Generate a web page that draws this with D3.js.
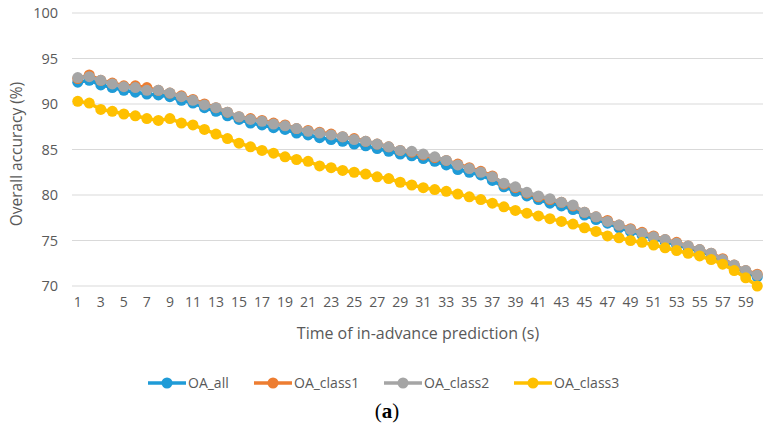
<!DOCTYPE html>
<html>
<head>
<meta charset="utf-8">
<script src="https://cdn.jsdelivr.net/npm/d3@7"></script>
<style>
  body { margin: 0; background: #fff; }
  svg { display: block; font-family: "Open Sans", sans-serif; }
</style>
</head>
<body>
<svg id="chart"></svg>
<script>
const width = 775;
const height = 430;
const margin = { top: 13, right: 12, bottom: 144, left: 72 };

// x categories 1..60 (seconds)
const seconds = [1,2,3,4,5,6,7,8,9,10,11,12,13,14,15,16,17,18,19,20,
  21,22,23,24,25,26,27,28,29,30,31,32,33,34,35,36,37,38,39,40,
  41,42,43,44,45,46,47,48,49,50,51,52,53,54,55,56,57,58,59,60];

const oaAll = [92.4,92.6,92.1,91.8,91.5,91.3,91.1,91.0,90.8,90.4,90.1,89.6,89.2,88.7,88.3,
  87.9,87.7,87.4,87.2,86.8,86.6,86.3,86.1,85.9,85.6,85.4,85.1,84.8,84.5,84.3,
  84.0,83.7,83.3,82.8,82.5,82.2,81.6,80.9,80.4,79.9,79.5,79.1,78.8,78.4,77.8,
  77.3,76.9,76.4,76.0,75.6,75.2,74.9,74.5,74.2,73.8,73.4,72.7,72.1,71.5,71.0];

const oaClass1 = [92.8,93.2,92.6,92.3,92.0,92.0,91.8,91.5,91.2,90.9,90.5,90.0,89.6,89.1,88.6,
  88.4,88.2,87.9,87.7,87.3,87.1,86.9,86.7,86.4,86.2,85.9,85.6,85.3,84.9,84.7,
  84.4,84.1,83.8,83.4,83.0,82.6,82.1,81.2,80.8,80.2,79.8,79.5,79.2,78.8,78.1,
  77.6,77.2,76.7,76.3,75.9,75.5,75.1,74.8,74.4,74.0,73.6,73.0,72.3,71.7,71.3];

const oaClass2 = [92.9,93.0,92.6,92.2,91.9,91.8,91.5,91.5,91.2,90.8,90.4,89.9,89.6,89.1,88.6,
  88.3,88.1,87.8,87.6,87.3,87.0,86.8,86.6,86.4,86.1,85.9,85.6,85.3,84.9,84.8,
  84.5,84.2,83.8,83.3,82.9,82.5,82.0,81.3,80.9,80.3,79.9,79.6,79.2,78.9,78.1,
  77.6,77.1,76.7,76.2,75.8,75.4,75.1,74.7,74.4,74.0,73.6,72.9,72.3,71.7,71.2];

const oaClass3 = [90.3,90.1,89.4,89.2,88.9,88.7,88.4,88.2,88.4,87.9,87.7,87.2,86.7,86.2,85.7,
  85.3,84.9,84.6,84.2,83.9,83.7,83.2,83.0,82.7,82.5,82.3,82.0,81.8,81.4,81.1,
  80.8,80.6,80.4,80.1,79.8,79.5,79.1,78.7,78.3,78.0,77.7,77.4,77.1,76.8,76.4,
  76.0,75.5,75.3,75.0,74.8,74.5,74.2,73.9,73.6,73.3,72.9,72.4,71.7,70.9,70.0];

const seriesNames = ["OA_all", "OA_class1", "OA_class2", "OA_class3"];
const seriesColors = ["#1f9bd7", "#ed7d31", "#a5a5a5", "#ffc000"];
const seriesValues = [oaAll, oaClass1, oaClass2, oaClass3];

const yTicks = [70, 75, 80, 85, 90, 95, 100];
const xTickLabels = seconds.filter((d) => d % 2 === 1);

const svg = d3.select("#chart").attr("width", width).attr("height", height);

const xScale = d3
  .scaleBand()
  .domain(seconds)
  .range([margin.left, width - margin.right]);

const yScale = d3
  .scaleLinear()
  .domain([70, 100])
  .range([height - margin.bottom, margin.top]);

const cx = (d) => xScale(d) + xScale.bandwidth() / 2;

// gridlines
svg
  .append("g")
  .selectAll("line")
  .data(yTicks)
  .enter()
  .append("line")
  .attr("x1", margin.left)
  .attr("x2", width - margin.right)
  .attr("y1", (d) => yScale(d))
  .attr("y2", (d) => yScale(d))
  .attr("stroke", "#d9d9d9")
  .attr("stroke-width", 1);

// y axis labels
const yAxis = d3.axisLeft(yScale).tickValues(yTicks).tickSize(0).tickPadding(14);
svg
  .append("g")
  .attr("transform", "translate(" + margin.left + ",0)")
  .call(yAxis)
  .call((g) => g.select(".domain").remove())
  .selectAll("text")
  .attr("font-family", "'Open Sans', sans-serif")
  .attr("font-size", 14.5)
  .attr("fill", "#595959");

// x axis labels (every other category)
const xAxis = d3.axisBottom(xScale).tickValues(xTickLabels).tickSize(0).tickPadding(11);
svg
  .append("g")
  .attr("transform", "translate(0," + (height - margin.bottom) + ")")
  .call(xAxis)
  .call((g) => g.select(".domain").remove())
  .selectAll("text")
  .attr("font-family", "'Open Sans', sans-serif")
  .attr("font-size", 14)
  .attr("fill", "#595959");

// axis titles
svg
  .append("text")
  .attr("x", 418)
  .attr("y", 339)
  .attr("text-anchor", "middle")
  .attr("font-size", 16)
  .attr("fill", "#595959")
  .text("Time of in-advance prediction (s)");

svg
  .append("text")
  .attr("transform", "translate(22," + yScale(84.5) + ") rotate(-90)")
  .attr("text-anchor", "middle")
  .attr("font-size", 15.5)
  .attr("fill", "#595959")
  .text("Overall accuracy (%)");

// series
const line = d3
  .line()
  .x((d, i) => cx(seconds[i]))
  .y((d) => yScale(d));

seriesValues.forEach((vals, k) => {
  const g = svg.append("g");
  g.append("path")
    .attr("d", line(vals))
    .attr("fill", "none")
    .attr("stroke", seriesColors[k])
    .attr("stroke-width", 3.5);
  g.selectAll("circle")
    .data(vals)
    .enter()
    .append("circle")
    .attr("cx", (d, i) => cx(seconds[i]))
    .attr("cy", (d) => yScale(d))
    .attr("r", 5.5)
    .attr("fill", seriesColors[k]);
});

// legend
const legendX = [148, 254, 384, 514];
const legend = svg.append("g");
seriesNames.forEach((name, k) => {
  const lg = legend.append("g").attr("transform", "translate(" + legendX[k] + ",383)");
  lg.append("line")
    .attr("x1", 0)
    .attr("x2", 38)
    .attr("stroke", seriesColors[k])
    .attr("stroke-width", 3.5);
  lg.append("circle").attr("cx", 19).attr("r", 5.5).attr("fill", seriesColors[k]);
  lg.append("text")
    .attr("x", 40)
    .attr("y", 5)
    .attr("font-size", 14)
    .attr("fill", "#595959")
    .text(name);
});

// panel label
svg
  .append("text")
  .attr("x", 387)
  .attr("y", 418)
  .attr("text-anchor", "middle")
  .attr("font-family", "'Liberation Serif', serif")
  .attr("font-size", 21)
  .attr("fill", "#000")
  .html("(<tspan font-weight='bold'>a</tspan>)");
</script>
</body>
</html>
